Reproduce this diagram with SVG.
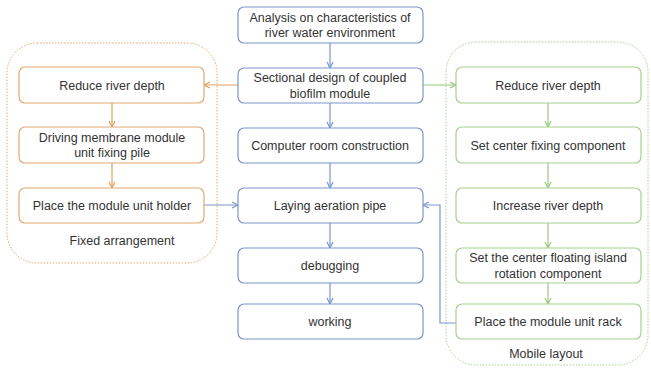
<svg xmlns="http://www.w3.org/2000/svg" width="651" height="370" viewBox="0 0 651 370">
<defs>
<style>
text{font-family:"Liberation Sans",Arial,sans-serif;font-size:12.5px;fill:#333;text-anchor:middle}
.b{fill:#fff;stroke:#7b96c8;stroke-width:1.2}
.o{fill:#fff;stroke:#e0aa72;stroke-width:1.2}
.g{fill:#fff;stroke:#a6d08e;stroke-width:1.2}
.cb{fill:none;stroke:#7b96c8;stroke-width:1.2}
.co{fill:none;stroke:#e0a060;stroke-width:1.2}
.cg{fill:none;stroke:#97c97a;stroke-width:1.2}
</style>
<marker id="ab" markerWidth="8" markerHeight="8" refX="7" refY="4" orient="auto" markerUnits="userSpaceOnUse"><path d="M1,1 L7,4 L1,7" fill="none" stroke="#7b96c8" stroke-width="1.2"/></marker>
<marker id="ao" markerWidth="8" markerHeight="8" refX="7" refY="4" orient="auto" markerUnits="userSpaceOnUse"><path d="M1,1 L7,4 L1,7" fill="none" stroke="#e0a060" stroke-width="1.2"/></marker>
<marker id="ag" markerWidth="8" markerHeight="8" refX="7" refY="4" orient="auto" markerUnits="userSpaceOnUse"><path d="M1,1 L7,4 L1,7" fill="none" stroke="#97c97a" stroke-width="1.2"/></marker>
</defs>
<rect width="651" height="370" fill="#fff"/>
<g id="group-fixed">
<rect x="7" y="43" width="210" height="220" rx="30" fill="none" stroke="#e0aa72" stroke-width="1" stroke-dasharray="1.5,1.5"/>
<text x="122" y="245">Fixed arrangement</text>
</g>
<g id="group-mobile">
<rect x="446" y="42" width="202" height="323" rx="30" fill="none" stroke="#a6d08e" stroke-width="1" stroke-dasharray="1.5,1.5"/>
<text x="546" y="358">Mobile layout</text>
</g>
<g id="connectors">
<path class="cb" d="M330,43 V68" marker-end="url(#ab)"/>
<path class="cb" d="M330,103 V128" marker-end="url(#ab)"/>
<path class="cb" d="M330,163 V188" marker-end="url(#ab)"/>
<path class="cb" d="M330,223 V248" marker-end="url(#ab)"/>
<path class="cb" d="M330,283 V304" marker-end="url(#ab)"/>
<path class="co" d="M238,85 H204" marker-end="url(#ao)"/>
<path class="cg" d="M423,85 H456" marker-end="url(#ag)"/>
<path class="co" d="M112,103 V127" marker-end="url(#ao)"/>
<path class="co" d="M112,163 V188" marker-end="url(#ao)"/>
<path class="cb" d="M204,205 H238" marker-end="url(#ab)"/>
<path class="cg" d="M548,103 V127" marker-end="url(#ag)"/>
<path class="cg" d="M548,163 V188" marker-end="url(#ag)"/>
<path class="cg" d="M548,223 V248" marker-end="url(#ag)"/>
<path class="cg" d="M548,283 V304" marker-end="url(#ag)"/>
<path class="cb" d="M456,323 H440 V205 H423" marker-end="url(#ab)"/>
</g>
<g id="c1"><rect class="b" x="238" y="7" width="185" height="36" rx="6"/><text x="330" y="21.5">Analysis on characteristics of</text><text x="330" y="37">river water environment</text></g>
<g id="c2"><rect class="b" x="238" y="68" width="185" height="35" rx="6"/><text x="330" y="82">Sectional design of coupled</text><text x="330" y="97.5">biofilm module</text></g>
<g id="c3"><rect class="b" x="238" y="128" width="185" height="35" rx="6"/><text x="330" y="150">Computer room construction</text></g>
<g id="c4"><rect class="b" x="238" y="188" width="185" height="35" rx="6"/><text x="330" y="210">Laying aeration pipe</text></g>
<g id="c5"><rect class="b" x="238" y="248" width="185" height="35" rx="6"/><text x="330" y="270">debugging</text></g>
<g id="c6"><rect class="b" x="238" y="304" width="185" height="35" rx="6"/><text x="330" y="326">working</text></g>
<g id="l1"><rect class="o" x="19" y="67" width="185" height="36" rx="6"/><text x="112" y="89.5">Reduce river depth</text></g>
<g id="l2"><rect class="o" x="19" y="127" width="185" height="36" rx="6"/><text x="112" y="141.5">Driving membrane module</text><text x="112" y="157">unit fixing pile</text></g>
<g id="l3"><rect class="o" x="19" y="188" width="185" height="35" rx="6"/><text x="112" y="210">Place the module unit holder</text></g>
<g id="r1"><rect class="g" x="456" y="67" width="185" height="36" rx="6"/><text x="548" y="89.5">Reduce river depth</text></g>
<g id="r2"><rect class="g" x="456" y="127" width="185" height="36" rx="6"/><text x="548" y="149.5">Set center fixing component</text></g>
<g id="r3"><rect class="g" x="456" y="188" width="185" height="35" rx="6"/><text x="548" y="210">Increase river depth</text></g>
<g id="r4"><rect class="g" x="456" y="248" width="185" height="35" rx="6"/><text x="548" y="262">Set the center floating island</text><text x="548" y="277.5">rotation component</text></g>
<g id="r5"><rect class="g" x="456" y="304" width="185" height="35" rx="6"/><text x="548" y="326">Place the module unit rack</text></g>
</svg>
